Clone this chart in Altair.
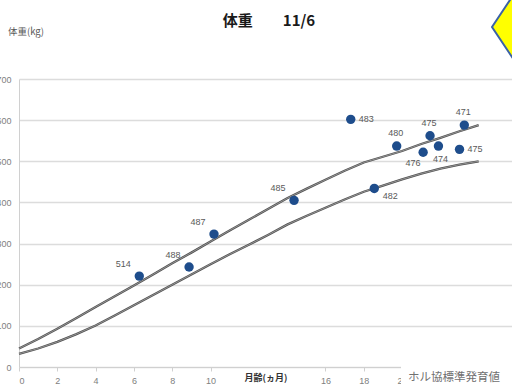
import altair as alt
import pandas as pd

# Measured body weight by age (months), with the cow's number as the label
age_months = [6.28, 8.88, 10.18, 14.36, 17.32, 18.55, 19.72, 21.1, 21.46, 21.9, 23.0, 23.25]
weight_kg = [221, 243, 323, 405, 602, 434, 537, 522, 562, 537, 529, 588]
cow_ids = ["514", "488", "487", "485", "483", "482", "480", "476", "475", "474", "475", "471"]
label_side = ["upper-left", "upper-left", "upper-left", "upper-left", "right", "below-right",
              "above", "below-left", "above", "below", "right", "above"]

# Holstein association standard growth band (upper / lower), by month
std_months = list(range(0, 25))
std_upper = [45, 68, 93, 119, 146, 172, 198, 225, 252, 278, 305, 332, 358,
             384, 410, 433, 455, 477, 497, 511, 525, 542, 557, 573, 588]
std_lower = [32, 45, 61, 80, 101, 125, 150, 175, 200, 225, 250, 274, 297,
             321, 346, 367, 387, 407, 426, 441, 456, 470, 482, 492, 500]

x_ticks = [0, 2, 4, 6, 8, 10, 16, 18, 20]
y_ticks = [0, 100, 200, 300, 400, 500, 600, 700]

points = pd.DataFrame({"age": age_months, "weight": weight_kg, "id": cow_ids, "side": label_side})
std = pd.DataFrame({"age": std_months, "upper": std_upper, "lower": std_lower})

W, H = 493, 288
x_scale = alt.Scale(domain=[0, 25.74], nice=False, zero=False)
y_scale = alt.Scale(domain=[0, 700], nice=False)

x_enc = alt.X("age:Q", scale=x_scale, axis=alt.Axis(
    values=x_ticks, title=None, grid=False, domainColor="#d0d0d0", tickColor="#d0d0d0",
    tickSize=4, labelFontSize=9, labelColor="#808080", labelPadding=5,
    labelFont="Liberation Sans"))
y_axis = alt.Axis(values=y_ticks, title=None, grid=True, gridColor="#dcdcdc", gridWidth=1.3,
                  domainColor="#d0d0d0", ticks=False, labelFontSize=9, labelColor="#808080",
                  labelPadding=8, labelFont="Liberation Sans")


def std_line(col, color, width):
    return alt.Chart(std).mark_line(color=color, strokeWidth=width).encode(
        x=x_enc,
        y=alt.Y(f"{col}:Q", scale=y_scale, axis=y_axis),
    )


# each band edge is a dark stroke with a light core, giving a double-line look
curves = alt.layer(
    std_line("upper", "#505050", 2.3), std_line("upper", "#b0b0b0", 0.7),
    std_line("lower", "#505050", 2.3), std_line("lower", "#b0b0b0", 0.7),
)

dots = alt.Chart(points).mark_circle(size=88, color="#1e4d8c", opacity=1).encode(
    x=alt.X("age:Q", scale=x_scale), y=alt.Y("weight:Q", scale=y_scale))

offsets = {
    "upper-left": (-16, -12, "center"),
    "right": (8, 0, "left"),
    "above": (-1, -13, "center"),
    "below-left": (-10, 11, "center"),
    "below": (2, 13, "center"),
    "below-right": (16, 8, "center"),
}
labels = []
for side, (dx, dy, align) in offsets.items():
    labels.append(
        alt.Chart(points).transform_filter(alt.datum.side == side)
        .mark_text(dx=dx, dy=dy, align=align, baseline="middle", fontSize=9,
                   color="#595959", font="Liberation Sans")
        .encode(x=alt.X("age:Q", scale=x_scale), y=alt.Y("weight:Q", scale=y_scale),
                text="id:N")
    )

one = alt.Data(values=[{}])

# white boxes behind the axis title and the series name
covers = alt.layer(
    alt.Chart(one).mark_rect(color="white").encode(
        x=alt.value(222), x2=alt.value(274), y=alt.value(291), y2=alt.value(306)),
    alt.Chart(one).mark_rect(color="white").encode(
        x=alt.value(382), x2=alt.value(493), y=alt.value(284), y2=alt.value(306)),
)

texts = alt.layer(
    alt.Chart(one).mark_text(text="体重　　11/6", fontSize=15, fontWeight="bold",
                             font="Noto Sans CJK JP", color="#1a1a1a", align="center",
                             baseline="middle").encode(x=alt.value(250), y=alt.value(-58)),
    alt.Chart(one).mark_text(text="体重(kg)", fontSize=9.5, font="Noto Sans CJK JP",
                             color="#595959", align="left", baseline="middle")
    .encode(x=alt.value(-11), y=alt.value(-47)),
    alt.Chart(one).mark_text(text="月齢(ヵ月)", fontSize=9, fontWeight="bold",
                             font="Noto Sans CJK JP", color="#333333", align="center",
                             baseline="middle").encode(x=alt.value(247), y=alt.value(299)),
    alt.Chart(one).mark_text(text="ホル協標準発育値", fontSize=11.5, font="Noto Sans CJK JP",
                             color="#707070", align="left", baseline="middle")
    .encode(x=alt.value(389), y=alt.value(299)),
)

diamond = alt.Chart(one).mark_point(
    shape="M -1 0 L 0 -1.5 L 1 0 L 0 1.5 Z", size=4900, filled=True, fill="#ffff00",
    stroke="#3a62a8", strokeWidth=2, opacity=1,
).encode(x=alt.value(508), y=alt.value(-52))

chart = alt.layer(curves, dots, *labels, covers, texts, diamond).properties(
    width=W, height=H,
    autosize=alt.AutoSizeParams(type="none"),
    padding={"left": 19, "top": 79, "right": 0, "bottom": 18},
    background="white",
).configure_view(stroke=None)

chart.save("out.html", embed_options={"renderer": "svg", "actions": False})
